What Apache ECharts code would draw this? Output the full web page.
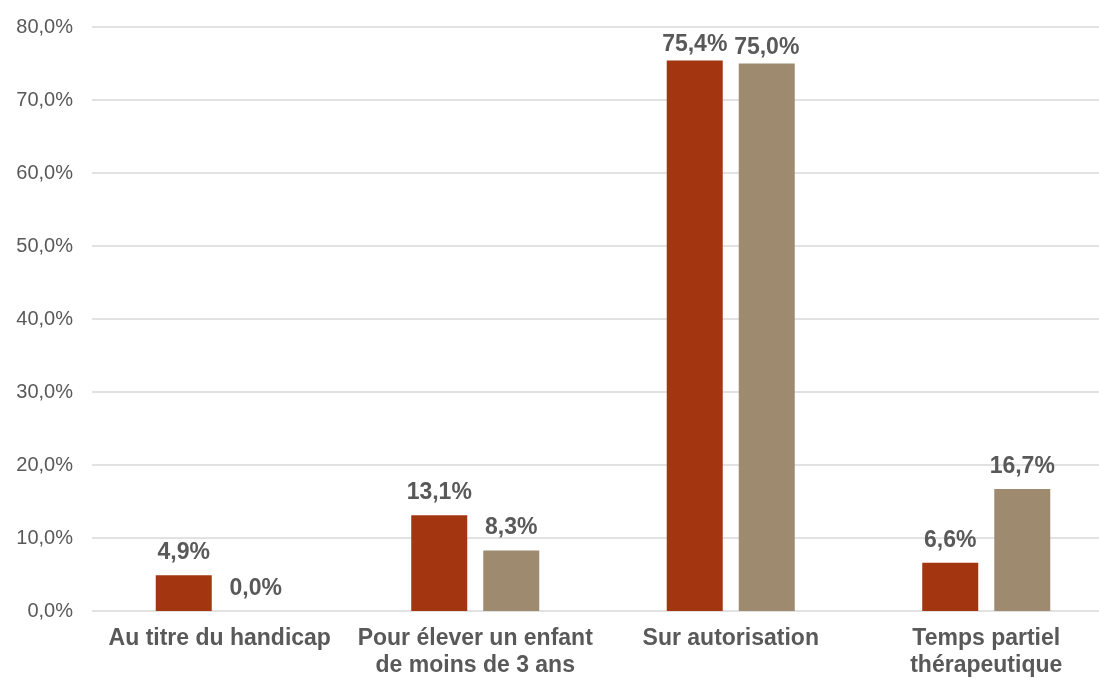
<!DOCTYPE html>
<html>
<head>
<meta charset="utf-8">
<script src="https://cdn.jsdelivr.net/npm/echarts@6/dist/echarts.min.js"></script>
<style>
  html, body { margin: 0; padding: 0; background: #fff; overflow: hidden; }
  #chart { width: 1114px; height: 680px; }
</style>
</head>
<body>
<div id="chart"></div>
<script>
var categories = ['Au titre du handicap', 'Pour élever un enfant\nde moins de 3 ans', 'Sur autorisation', 'Temps partiel\nthérapeutique'];
var serie1 = [4.9, 13.1, 75.4, 6.6];
var serie2 = [0.0, 8.3, 75.0, 16.7];

function pct(v) {
    return v.toFixed(1).replace('.', ',') + '%';
}

// labels near the top of the plot sit closer to their bar
function withLabels(arr) {
    return arr.map(function (v) {
        return v > 70 ? { value: v, label: { distance: 4 } } : v;
    });
}

var myChart = echarts.init(document.getElementById('chart'));

var labelStyle = {
    show: true,
    position: 'top',
    distance: 11,
    color: '#595959',
    fontFamily: 'Liberation Sans, Arial, sans-serif',
    fontWeight: 'bold',
    fontSize: 23,
    formatter: function (p) { return pct(p.value); }
};

var option = {
    animation: false,
    grid: {
        left: 92,
        right: 0,
        top: 27,
        bottom: 69
    },
    xAxis: {
        type: 'category',
        data: categories,
        axisLine: { show: false },
        axisTick: { show: false },
        axisLabel: {
            color: '#595959',
            fontFamily: 'Liberation Sans, Arial, sans-serif',
            fontWeight: 'bold',
            fontSize: 23,
            lineHeight: 27,
            margin: 14,
            interval: 0
        }
    },
    yAxis: {
        type: 'value',
        min: 0,
        max: 80,
        interval: 10,
        axisLine: { show: false },
        axisTick: { show: false },
        splitLine: { lineStyle: { color: '#D9D9D9', width: 1.5 } },
        axisLabel: {
            color: '#595959',
            fontFamily: 'Liberation Sans, Arial, sans-serif',
            fontSize: 20,
            margin: 19,
            formatter: function (v) { return pct(v); }
        }
    },
    series: [{
        type: 'bar',
        data: withLabels(serie1),
        barWidth: 56,
        barGap: '28.6%',
        itemStyle: { color: '#A33511' },
        label: labelStyle
    }, {
        type: 'bar',
        data: withLabels(serie2),
        barWidth: 56,
        itemStyle: { color: '#9E8B6F' },
        label: labelStyle
    }]
};
myChart.setOption(option);
</script>
</body>
</html>
